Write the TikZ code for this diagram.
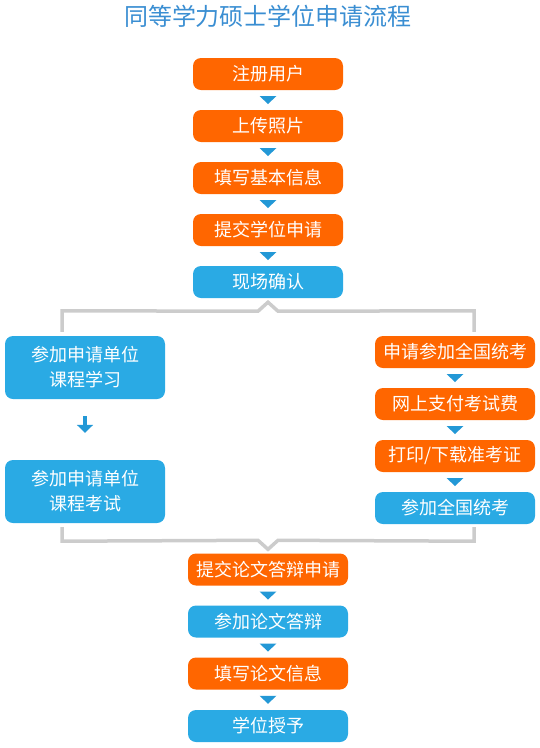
\documentclass[tikz,border=0pt]{standalone}
\usepackage{fontspec}
\setmainfont{Noto Sans CJK SC}
\usetikzlibrary{positioning, arrows.meta, calc}
\definecolor{steporange}{HTML}{FF6600}
\definecolor{stepblue}{HTML}{2AAAE4}
\definecolor{triblue}{HTML}{2398D6}
\definecolor{titleblue}{HTML}{3A8ED2}
\definecolor{linegray}{HTML}{CCCCCC}

\begin{document}
\begin{tikzpicture}[
    x=1pt, y=1pt,
    box/.style={rectangle, rounded corners=8pt, text=white, align=center,
        inner sep=0pt, font=\fontsize{18}{25}\selectfont},
    obox/.style={box, fill=steporange, minimum width=150pt, minimum height=32pt},
    bbox/.style={box, fill=stepblue, minimum width=150pt, minimum height=32pt},
    wide/.style={minimum width=160pt},
    bracket/.style={draw=linegray, line width=3.5pt, line join=miter},
    arrow/.style={-{Triangle[width=16pt, length=8pt]}, draw=triblue, line width=4pt},
    downtri/.pic={\fill[triblue] (-8.5,4) -- (8.5,4) -- (0,-4) -- cycle;}
]
    \useasboundingbox (0,0) rectangle (540,-748);

    % title
    \node[text=titleblue, font=\fontsize{24}{28}\selectfont] (title) at (268,-16) {同等学力硕士学位申请流程};

    % 1. common steps
    \node[obox] (reg) at (268,-74) {注册用户};
    \node[obox] (photo) at (268,-126) {上传照片};
    \node[obox] (info) at (268,-178) {填写基本信息};
    \node[obox] (apply) at (268,-230) {提交学位申请};
    \node[bbox] (confirm) at (268,-282) {现场确认};

    % 2. left branch
    \node[bbox, wide, minimum height=63pt] (study) at (85,-367.5) {参加申请单位\\课程学习};
    \node[bbox, wide, minimum height=63pt] (exam) at (85,-491.5) {参加申请单位\\课程考试};

    % 3. right branch
    \node[obox, wide] (enroll) at (455,-352) {申请参加全国统考};
    \node[obox, wide] (pay) at (455,-404) {网上支付考试费};
    \node[obox, wide] (ticket) at (455,-456) {打印/下载准考证};
    \node[bbox, wide] (nexam) at (455,-508) {参加全国统考};

    % 4. defence steps
    \node[obox, wide] (defapp) at (268,-569.5) {提交论文答辩申请};
    \node[bbox, wide] (defense) at (268,-621.5) {参加论文答辩};
    \node[obox, wide] (thesis) at (268,-673.5) {填写论文信息};
    \node[bbox, wide] (degree) at (268,-726) {学位授予};

    % 5. small triangles between steps
    \foreach \a/\b in {reg/photo, photo/info, info/apply, apply/confirm,
        enroll/pay, pay/ticket, ticket/nexam,
        defapp/defense, defense/thesis, thesis/degree}
        \path (\a) -- (\b) pic[midway] {downtri};

    \draw[arrow, shorten <=17pt, shorten >=27pt] (study) -- (exam);

    % 6. brackets
    \draw[bracket] ([shift={(-23,4)}]study.north) -- ++(0,21)
        -- ($(confirm.south)+(-10,-13)$) -- ($(confirm.south)+(0,-4)$)
        -- ($(confirm.south)+(10,-13)$) -- ([shift={(19,25)}]enroll.north)
        -- ([shift={(19,4)}]enroll.north);
    \draw[bracket] ([shift={(-23,-4)}]exam.south) -- ++(0,-14)
        -- ($(defapp.north)+(-10,13)$) -- ($(defapp.north)+(0,4)$)
        -- ($(defapp.north)+(10,13)$) -- ([shift={(19,-17)}]nexam.south)
        -- ([shift={(19,-3)}]nexam.south);

\end{tikzpicture}
\end{document}
